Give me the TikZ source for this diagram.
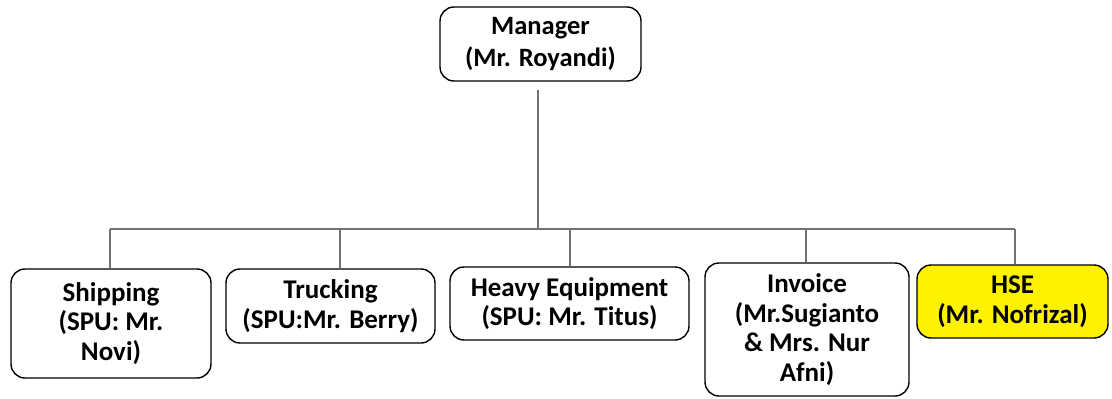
\documentclass[tikz,border=0pt]{standalone}
\usepackage{fontspec}
\setmainfont{Carlito}
\begin{document}
\begin{tikzpicture}[x=1pt,y=-1pt,
  box/.style={draw=black, line width=1.4pt, rounded corners=14pt, align=center,
    font=\bfseries\fontsize{27}{29.5}\selectfont, inner sep=0pt},
  conn/.style={draw=black!55, line width=1.1pt}]
\useasboundingbox (0,0) rectangle (1112,399);
\node[box, minimum width=201pt, minimum height=74pt, font=\bfseries\fontsize{26.5}{32}\selectfont] (mgr) at (540.5,44) {Manager\\(Mr. Royandi)};
\node[box, minimum width=200pt, minimum height=109pt] (ship) at (111,323.5) {Shipping\\(SPU: Mr.\\Novi)};
\node[box, minimum width=209pt, minimum height=74pt] (truck) at (330.5,306) {Trucking\\(SPU:Mr. Berry)};
\node[box, minimum width=239pt, minimum height=73pt] (heavy) at (569.5,303.5) {Heavy Equipment\\(SPU: Mr. Titus)};
\node[box, minimum width=204pt, minimum height=133pt] (inv) at (807,329.5) {Invoice\\(Mr.Sugianto\\\& Mrs. Nur\\Afni)};
\node[box, fill=yellow, minimum width=191pt, minimum height=73pt] (hse) at (1012.5,301.5) {HSE\\(Mr. Nofrizal)};
\coordinate (jm) at (538,229);
\coordinate (j1) at (110,229);
\coordinate (j2) at (340,229);
\coordinate (j3) at (570,229);
\coordinate (j4) at (806,229);
\coordinate (j5) at (1015,229);
\draw[conn] (mgr.south -| jm) ++(0,8) -- (jm);
\draw[conn] (j1) -- (j5);
\draw[conn] (j1) -- (j1 |- ship.north);
\draw[conn] (j2) -- (j2 |- truck.north);
\draw[conn] (j3) -- (j3 |- heavy.north);
\draw[conn] (j4) -- (j4 |- inv.north);
\draw[conn] (j5) -- (j5 |- hse.north);
\end{tikzpicture}
\end{document}
